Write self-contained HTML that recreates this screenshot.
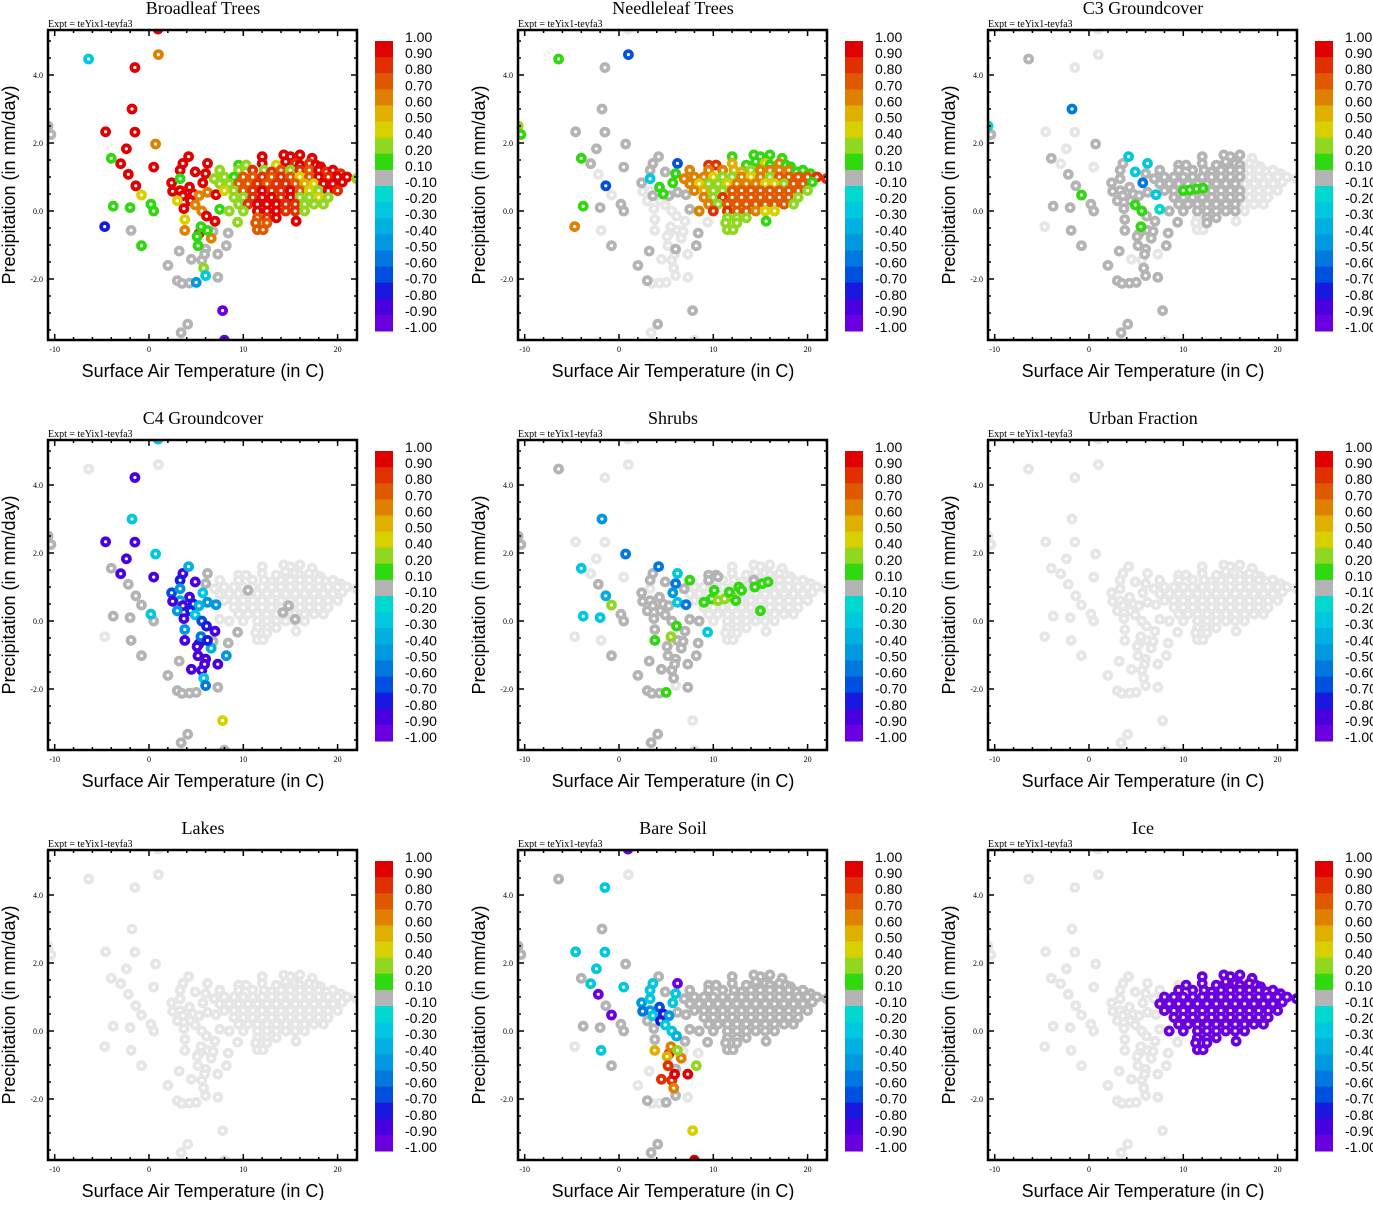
<!DOCTYPE html>
<html><head><meta charset="utf-8"><style>
html,body{margin:0;padding:0;background:#fff;}
svg text{font-family:"Liberation Sans",sans-serif;}
.serif{font-family:"Liberation Serif",serif;}
</style></head><body>
<svg id="fig" xmlns="http://www.w3.org/2000/svg" width="1373" height="1200" viewBox="0 0 1373 1200"></svg>
<script>
const L = null, G = 0;
// outer (scattered) points: temperature (C), precipitation (mm/day)
const outerT = [0.95,1.0,-6.4,-1.5,-1.8,-4.6,-1.5,0.7,-10.7,-10.4,-4.0,-2.4,-3.0,-2.2,0.5,-1.4,-0.8,-3.8,-2.0,0.2,0.5,-4.7,-1.9,-0.8,
2.4,3.6,4.2,3.3,4.9,3.3,6.2,6.0,5.7,4.3,3.3,2.5,3.6,4.7,6.2,5.3,3.0,4.4,3.7,4.9,7.1,5.6,6.1,7.0,3.8,3.8,5.3,6.6,5.5,5.1,6.2,6.8,8.4,5.2,6.0,3.2,4.5,5.6,5.9,7.3,8.2,2.0,5.8,3.0,3.5,4.3,5.0,6.0,7.3,7.8,4.1,3.4,8.0,7.5,7.5,6.9,9.5,9.4,8.5,10.3,22.1];
const outerP = [5.35,4.6,4.47,4.22,3.0,2.33,2.32,1.97,2.5,2.25,1.55,1.83,1.39,1.08,1.29,0.74,0.47,0.14,0.1,0.2,0.0,-0.46,-0.57,-1.02,
0.83,1.4,1.6,1.2,1.15,0.95,1.4,1.1,0.83,0.7,0.6,0.58,0.45,0.5,0.55,0.45,0.3,0.3,0.07,0.18,0.48,0.0,-0.15,-0.3,-0.25,-0.57,-0.67,-0.8,-0.46,-0.75,-0.57,-0.6,-0.65,-1.02,-1.12,-1.18,-1.42,-1.45,-1.27,-1.27,-1.02,-1.6,-1.68,-2.05,-2.13,-2.12,-2.1,-1.9,-1.95,-2.93,-3.33,-3.58,-3.8,0.05,1.2,0.95,1.35,-0.33,0.0,1.35,0.95];
// dense cluster points
const clusterT = [12,14.3,15,16,17.3,
10.3,12,13.5,14.5,15.5,16,17,17.7,18.2,
9.5,11,12.2,13,14,15,16,17,18,18.8,19.5,20.3,
8,9,10,11,12,13,14,15,16,17,18,19,20,21,22,
7.5,8.5,9.5,10.5,11.5,12.5,13.5,14.5,15.5,16.5,17.5,18.5,19.5,20.5,
8,9,10,11,12,13,14,15,16,17,18,19,20,
9,10,11,12,13,14,15,16,17,18,19,
9.5,10.5,11.5,12.5,13.5,14.5,15.5,16.5,17.5,18.5,
8.5,10,11.5,12.5,13.5,14.5,15.5,16.5,
11.5,12.5,13.5, 11.3,12.5,15.6, 11.5,12.1];
const clusterP = [1.6,1.65,1.6,1.65,1.55,
1.35,1.4,1.35,1.45,1.4,1.35,1.4,1.35,1.3,
1.2,1.2,1.2,1.15,1.2,1.2,1.2,1.2,1.2,1.15,1.2,1.1,
1.0,1.0,1.0,1.0,1.0,1.0,1.0,1.0,1.0,1.0,1.0,1.0,1.0,1.0,0.95,
0.8,0.8,0.8,0.8,0.8,0.8,0.8,0.8,0.8,0.8,0.8,0.8,0.8,0.85,
0.6,0.6,0.6,0.6,0.6,0.6,0.6,0.6,0.6,0.6,0.6,0.6,0.6,
0.4,0.4,0.4,0.4,0.4,0.4,0.4,0.4,0.4,0.4,0.4,
0.2,0.2,0.2,0.2,0.2,0.2,0.2,0.2,0.2,0.2,
0.0,0.0,0.0,0.0,0.0,0.0,0.0,0.0,
-0.2,-0.2,-0.2, -0.35,-0.35,-0.3, -0.55,-0.55];

const titles = ["Broadleaf Trees","Needleleaf Trees","C3 Groundcover","C4 Groundcover","Shrubs","Urban Fraction","Lakes","Bare Soil","Ice"];

const outerBroad = [0.95,0.6,-0.3,0.95,0.95,0.95,0.95,0.6,G,G,0.15,0.95,0.95,0.95,0.95,0.95,0.45,0.15,0.15,0.15,0.15,-0.75,G,0.15,
0.95,0.95,0.95,0.95,0.95,0.15,0.95,0.95,0.95,0.95,0.95,0.95,0.95,0.95,0.65,0.65,0.45,0.95,0.95,0.65,0.95,0.65,0.95,0.95,0.45,0.65,0.95,0.65,0.15,0.15,0.15,G,G,0.15,G,G,G,G,G,G,G,G,0.3,G,G,G,-0.45,-0.25,G,-0.95,G,G,-0.95,0.15,0.3,0.3,0.15,0.3,0.3,0.15,0.15];
const outerNeedle = [L,-0.65,0.15,G,G,G,G,G,0.3,0.15,0.15,G,G,L,G,-0.65,L,0.15,G,G,G,0.65,L,G,
G,G,G,G,G,-0.25,-0.65,0.15,0.15,0.15,L,L,G,0.15,G,G,L,L,L,L,G,L,L,L,L,L,L,L,L,L,L,L,G,L,G,G,L,L,L,L,G,G,L,G,L,L,L,L,L,G,G,L,L,G,0.65,0.65,0.85,L,0.65,0.65,0.85];
const outerC3 = [L,L,G,L,-0.55,L,L,G,-0.15,G,G,L,L,G,L,G,0.15,G,G,G,G,L,G,G,
G,G,-0.25,G,-0.25,G,-0.25,G,-0.55,G,G,G,G,G,G,G,G,G,G,0.15,-0.25,0.15,G,G,G,G,G,G,0.15,G,G,G,G,G,G,G,L,L,G,L,G,G,G,G,G,G,G,G,G,G,G,G,L,-0.15,G,G,G,G,G,G,L];
const outerC4 = [-0.25,L,L,-0.85,-0.25,-0.85,-0.85,-0.25,G,G,G,-0.85,-0.85,G,-0.85,G,G,G,G,-0.25,G,L,G,G,
-0.65,-0.85,-0.35,-0.75,-0.85,-0.45,G,G,-0.25,-0.85,-0.35,-0.85,-0.85,-0.75,-0.45,-0.35,-0.45,-0.75,-0.85,-0.25,-0.45,-0.65,-0.75,-0.85,-0.45,-0.85,-0.75,-0.35,-0.55,-0.85,-0.75,G,G,-0.85,-0.85,G,-0.85,-0.85,-0.85,-0.85,-0.45,G,-0.25,G,G,G,G,-0.55,G,0.45,G,G,G,L,L,L,L,G,L,L,L];
const outerShrub = [L,L,G,L,-0.45,L,L,-0.55,G,G,-0.25,L,L,G,L,-0.35,0.3,-0.25,-0.25,G,G,L,L,G,
G,G,-0.55,G,G,L,-0.25,-0.55,-0.45,G,G,G,G,G,-0.25,G,G,G,G,G,-0.55,G,0.15,G,G,0.15,L,G,0.3,G,G,G,G,G,G,G,G,G,G,G,G,G,G,G,G,G,0.15,L,G,L,G,G,L,G,0.15,G,G,-0.25,G,G,L];
const outerAllL = [L,L,L,L,L,L,L,L,L,L,L,L,L,L,L,L,L,L,L,L,L,L,L,L,
L,L,L,L,L,L,L,L,L,L,L,L,L,L,L,L,L,L,L,L,L,L,L,L,L,L,L,L,L,L,L,L,L,L,L,L,L,L,L,L,L,L,L,L,L,L,L,L,L,L,L,L,L,L,L,L,L,L,L,L,L];
const outerBare = [-0.95,L,G,-0.25,G,-0.25,-0.25,G,G,G,G,-0.25,-0.25,-0.95,-0.25,G,-0.95,G,G,G,G,L,-0.25,G,
-0.45,-0.25,G,-0.25,G,-0.25,-0.95,-0.25,-0.25,-0.65,-0.45,-0.55,-0.25,-0.75,G,-0.45,G,-0.75,G,-0.25,G,-0.25,-0.35,G,G,0.55,0.9,0.65,0.6,0.55,0.3,L,L,0.85,G,L,0.85,0.85,0.9,0.9,0.3,L,0.65,G,L,L,G,G,L,0.45,G,G,0.95,G,G,G,G,G,G,G,G];
const outerIce = outerAllL;

const clBroad = [.95,.95,.95,.95,.95,
.3,.95,.45,.95,.85,.95,.85,.95,.95,
.3,.85,.3,.85,.75,.3,.85,.75,.95,.85,.95,.85,
.3,.15,.75,.75,.85,.75,.85,.75,.45,.75,.95,.85,.95,.95,.3,
.3,.3,.75,.75,.85,.75,.85,.85,.75,.55,.45,.95,.95,.95,
.45,.3,.75,.85,.95,.85,.85,.95,.75,.45,.3,.95,.85,
.3,.3,.85,.95,.95,.85,.95,.3,.3,.45,.3,
.3,.85,.95,.95,.95,.85,.85,.3,.3,.3,
.3,.3,.95,.95,.95,.85,.85,.3,
.75,.85,.95, .75,.75,.95, .75,.75];
const clNeedle = [.15,.15,.15,.15,.15,
.85,.55,.15,.15,.45,.15,.65,.15,.15,
.65,.65,.55,.55,.3,.65,.65,.65,.65,.15,.15,.15,
.65,.65,.45,.3,.3,.65,.45,.65,.3,.75,.75,.75,.75,.85,.85,
.65,.45,.3,.3,.45,.65,.65,.65,.45,.45,.3,.75,.75,.15,
.65,.55,.3,.3,.75,.75,.75,.75,.75,.75,.75,.75,.3,
.65,.3,.85,.75,.75,.75,.75,.75,.75,.75,.3,
.65,.3,.75,.75,.75,.75,.75,.75,.75,.3,
.65,.85,.85,.75,.75,.65,.45,.45,
.3,.3,.3, .3,.3,.15, .3,.3];
const clC3 = [G,G,G,G,L,
G,G,G,G,G,G,L,L,L,
G,G,G,G,G,G,G,L,L,L,L,L,
G,G,G,G,G,G,G,G,G,L,L,L,L,L,L,
G,G,G,G,G,G,G,G,G,L,L,L,L,L,
G,G,G,G,G,G,G,G,G,L,L,L,L,
G,G,G,G,G,G,G,G,L,L,L,
G,G,G,G,G,G,G,L,L,L,
G,G,G,G,G,G,G,L,
L,G,G, L,G,L, L,L];
// per-panel extra points: [temperature, precipitation, value]
const exC3 = [[10,0.6,0.15],[10.7,0.62,0.15],[11.4,0.65,0.15],[12.1,0.67,0.15]];
const exC4 = [[10.5,0.9,G],[14.2,0.25,G],[14.8,0.45,G],[15.5,0.05,G]];
const exShrub = [[9,0.55,0.15],[9.8,0.65,0.15],[10.5,0.6,0.3],[11.2,0.65,0.3],[12,0.7,0.3],[10.1,0.9,0.15],[11.7,0.85,0.15],[12.7,1.0,0.15],[13,0.9,0.15],[14.4,1.0,0.15],[15.2,1.1,0.15],[15.8,1.15,0.15],[15,0.3,0.15],[12.4,0.6,0.15],[10.5,1.3,G],[9.5,1.2,G],[14.3,1.2,G]];
const panelOuter = [outerBroad,outerNeedle,outerC3,outerC4,outerShrub,outerAllL,outerAllL,outerBare,outerIce];
const panelCluster = [clBroad,clNeedle,clC3,L,L,L,L,G,-0.95];
const panelExtra = [[],[],exC3,exC4,exShrub,[],[],[],[]];

const cbLabels = ["1.00","0.90","0.80","0.70","0.60","0.50","0.40","0.20","0.10","-0.10","-0.20","-0.30","-0.40","-0.50","-0.60","-0.70","-0.80","-0.90","-1.00"];
const cbLevels = [1.0,0.9,0.8,0.7,0.6,0.5,0.4,0.2,0.1,-0.1,-0.2,-0.3,-0.4,-0.5,-0.6,-0.7,-0.8,-0.9,-1.0];
const cbColors = ["#e00000","#e03000","#e05800","#e08000","#e0b000","#d8d000","#90d820","#30d810","#b4b4b4","#00d8d0","#00c8e0","#00b0e0","#0098e0","#0078e0","#0050e0","#1818e0","#4800e0","#6a00e0"];

const NS="http://www.w3.org/2000/svg";
const svg=document.getElementById('fig');
function mk(tag,attrs,parent){const e=document.createElementNS(NS,tag);for(const k in attrs)e.setAttribute(k,attrs[k]);(parent||svg).appendChild(e);return e;}
function colorOf(v){
  if(v===null) return "#e6e6e6";
  for(let i=0;i<cbLevels.length-1;i++){ if(v<=cbLevels[i] && v>=cbLevels[i+1]) return cbColors[i]; }
  return v>0?cbColors[0]:cbColors[17];
}
const X0=48,X1=357,Y0=30,Y1=340;
function xs(t){return 149 + t*9.43;}
function ys(p){return 211 - p*34;}

titles.forEach((title,pi)=>{
  const ox=(pi%3)*470, oy=Math.floor(pi/3)*410;
  const g=mk('g',{transform:`translate(${ox},${oy})`});
  
  
  const t=mk('text',{x:203,y:14,'text-anchor':'middle','font-size':18,class:'serif'},g); t.textContent=title;
   
  const ex=mk('text',{x:48,y:27,'font-size':10,class:'serif'},g); ex.textContent='Expt = teYix1-teyfa3';
   
  const cid='clip'+pi;
  const cp=mk('clipPath',{id:cid},g); mk('rect',{x:X0,y:Y0,width:X1-X0,height:Y1-Y0},cp);
  const pg=mk('g',{'clip-path':`url(#${cid})`},g);
   
  const pts=[];
  const ov=panelOuter[pi];
  outerT.forEach((tt,i)=>pts.push([tt,outerP[i],ov[i]]));
  const cv=panelCluster[pi];
  clusterT.forEach((tt,i)=>pts.push([tt,clusterP[i],Array.isArray(cv)?cv[i]:cv]));
  panelExtra[pi].forEach(e=>pts.push(e));
  const rank=v=>v===null?0:(v===0?1:2);
  pts.sort((a,b)=>rank(a[2])-rank(b[2]));
  pts.forEach(p=>{
    const c=mk('circle',{cx:xs(p[0]).toFixed(1),cy:ys(p[1]).toFixed(1),r:3.5,fill:'#fff',stroke:colorOf(p[2]),'stroke-width':3.8},pg);
    
    
  });
  const fr=mk('rect',{x:X0,y:Y0,width:X1-X0,height:Y1-Y0,fill:'none',stroke:'#000','stroke-width':2.5},g);
   
  for(let v=-10;v<=22;v+=2){
    const x=xs(v); const maj=(v%10===0); const len=maj?6:3;
    mk('line',{x1:x,y1:Y1,x2:x,y2:Y1-len,stroke:'#000','stroke-width':1.5},g);
    mk('line',{x1:x,y1:Y0,x2:x,y2:Y0+len,stroke:'#000','stroke-width':1.5},g);
    if(maj){const tl=mk('text',{x:x,y:Y1+12,'text-anchor':'middle','font-size':8,class:'serif'},g);tl.textContent=String(v);
       }
  }
  for(let k=-7;k<=10;k++){
    const v=k*0.5; const y=ys(v); if(y<Y0||y>Y1) continue;
    const maj=(k%4===0); const len=maj?6:3;
    mk('line',{x1:X0,y1:y,x2:X0+len,y2:y,stroke:'#000','stroke-width':1.5},g);
    mk('line',{x1:X1,y1:y,x2:X1-len,y2:y,stroke:'#000','stroke-width':1.5},g);
    if(maj){const tl=mk('text',{x:X0-5,y:y+3,'text-anchor':'end','font-size':8,class:'serif'},g);tl.textContent=v.toFixed(1);
       }
  }
  const xt=mk('text',{x:203,y:377,'text-anchor':'middle','font-size':18},g); xt.textContent='Surface Air Temperature (in C)';
   
  const yt=mk('text',{x:0,y:0,'text-anchor':'middle','font-size':18,transform:'translate(15,185) rotate(-90)'},g); yt.textContent='Precipitation (in mm/day)';
   
  const cb=mk('g',{},g);
   
  const bh=290/18;
  for(let i=0;i<18;i++){
    mk('rect',{x:375,y:41+i*bh,width:18,height:bh+0.5,fill:cbColors[i]},cb);
  }
  cbLabels.forEach((lab,i)=>{
    const tl=mk('text',{x:405,y:41+i*bh+1,'font-size':14},cb); tl.textContent=lab;
     
  });
});
</script>
</body></html>
